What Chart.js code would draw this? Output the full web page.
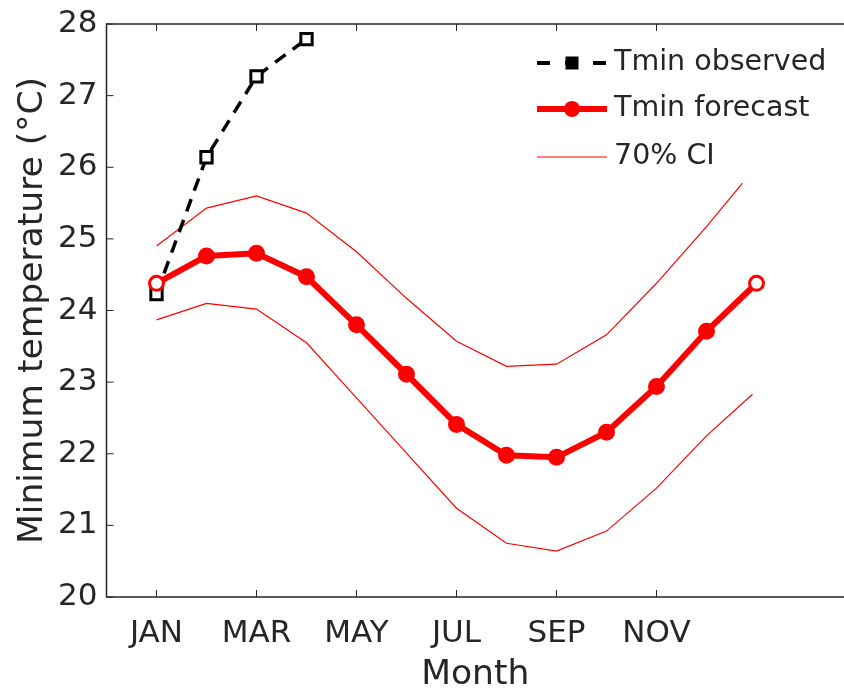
<!DOCTYPE html>
<html>
<head>
<meta charset="utf-8">
<script src="https://cdn.jsdelivr.net/npm/chart.js@4.4.1/dist/chart.umd.min.js"></script>
<style>
    html, body { margin: 0; padding: 0; background: #fff; overflow: hidden; }
    #wrap { width: 844px; height: 690px; }
</style>
</head>
<body>
<div id="wrap"><canvas id="chart" width="844" height="690"></canvas></div>
<script>
// Data
const months = [1, 2, 3, 4, 5, 6, 7, 8, 9, 10, 11, 12, 13];
const forecast = [24.38, 24.76, 24.80, 24.47, 23.80, 23.11, 22.41, 21.98, 21.95, 22.30, 22.94, 23.71, 24.38];

const observedMonths = [1, 2, 3, 4];
const observed = [24.23, 26.14, 27.27, 27.79];

const ciUpperMonths = [1, 2, 3, 4, 5, 6, 7, 8, 9, 10, 11, 12, 12.72];
const ciUpper = [24.90, 25.43, 25.60, 25.36, 24.82, 24.17, 23.57, 23.22, 23.25, 23.66, 24.38, 25.17, 25.78];
const ciLowerMonths = [1, 2, 3, 4, 5, 6, 7, 8, 9, 10, 11, 12, 12.92];
const ciLower = [23.87, 24.10, 24.02, 23.55, 22.78, 22.01, 21.24, 20.75, 20.64, 20.92, 21.52, 22.25, 22.83];

const tickMonths = [1, 3, 5, 7, 9, 11];
const tickLabels = ['JAN', 'MAR', 'MAY', 'JUL', 'SEP', 'NOV'];

const legendLabels = ['Tmin observed', 'Tmin forecast', '70% CI'];

const FONT = 'DejaVu Sans';
const INK = '#262626';
const RED = '#ff0000';

function toPoints(xs, ys) {
    return xs.map((x, i) => ({ x: x, y: ys[i] }));
}

// open markers at the ends of the forecast line
const forecastFill = forecast.map((v, i) => (i === 0 || i === forecast.length - 1) ? '#ffffff' : RED);

// axis box + inward ticks, matlab style
const boxPlugin = {
    id: 'box',
    afterDatasetsDraw(chart) {
        const { ctx, chartArea: a, scales } = chart;
        ctx.save();
        ctx.strokeStyle = INK;
        ctx.lineWidth = 1.5;
        ctx.beginPath();
        ctx.moveTo(a.right, a.top);
        ctx.lineTo(a.left, a.top);
        ctx.lineTo(a.left, a.bottom);
        ctx.lineTo(a.right, a.bottom);
        ctx.stroke();

        ctx.lineWidth = 1;
        ctx.beginPath();
        scales.x.ticks.forEach(t => {
            const px = scales.x.getPixelForValue(t.value);
            ctx.moveTo(px, a.bottom);
            ctx.lineTo(px, a.bottom - 7);
            ctx.moveTo(px, a.top);
            ctx.lineTo(px, a.top + 7);
        });
        scales.y.ticks.forEach(t => {
            const py = scales.y.getPixelForValue(t.value);
            ctx.moveTo(a.left, py);
            ctx.lineTo(a.left + 7, py);
        });
        ctx.stroke();
        ctx.restore();
    }
};

// legend drawn inside the axes, top right
const legendPlugin = {
    id: 'insideLegend',
    afterDatasetsDraw(chart) {
        const ctx = chart.ctx;
        const x0 = 537, x1 = 607, xm = (x0 + x1) / 2;
        const rows = [63, 109, 157];
        ctx.save();

        // observed
        ctx.strokeStyle = '#000';
        ctx.lineWidth = 4;
        ctx.setLineDash([13, 15]);
        ctx.beginPath();
        ctx.moveTo(x0, rows[0]);
        ctx.lineTo(x1, rows[0]);
        ctx.stroke();
        ctx.setLineDash([]);
        ctx.fillStyle = '#000';
        ctx.lineWidth = 3;
        ctx.strokeRect(xm - 5, rows[0] - 5, 10, 10);
        ctx.fillRect(xm - 5, rows[0] - 5, 10, 10);

        // forecast
        ctx.strokeStyle = RED;
        ctx.lineWidth = 6;
        ctx.beginPath();
        ctx.moveTo(x0, rows[1]);
        ctx.lineTo(x1, rows[1]);
        ctx.stroke();
        ctx.fillStyle = RED;
        ctx.beginPath();
        ctx.arc(xm, rows[1], 8, 0, Math.PI * 2);
        ctx.fill();

        // CI
        ctx.lineWidth = 1.2;
        ctx.beginPath();
        ctx.moveTo(x0, rows[2]);
        ctx.lineTo(x1, rows[2]);
        ctx.stroke();

        ctx.fillStyle = INK;
        ctx.font = '28.5px "' + FONT + '"';
        ctx.textBaseline = 'middle';
        ctx.textAlign = 'left';
        legendLabels.forEach((label, i) => ctx.fillText(label, 614, rows[i]));
        ctx.restore();
    }
};

const ctx = document.getElementById('chart').getContext('2d');
new Chart(ctx, {
    type: 'line',
    data: {
        datasets: [
            {
                label: 'Tmin forecast',
                data: toPoints(months, forecast),
                borderColor: RED,
                borderWidth: 6,
                pointRadius: 7,
                pointBorderWidth: 3,
                pointBorderColor: RED,
                pointBackgroundColor: forecastFill,
                tension: 0
            },
            {
                label: 'Tmin observed',
                data: toPoints(observedMonths, observed),
                borderColor: '#000',
                borderWidth: 3.5,
                borderDash: [13, 9],
                pointStyle: 'rect',
                pointRadius: 8,
                pointBorderWidth: 3,
                pointBorderColor: '#000',
                pointBackgroundColor: '#ffffff',
                tension: 0
            },
            {
                label: '70% CI',
                data: toPoints(ciUpperMonths, ciUpper),
                borderColor: RED,
                borderWidth: 1.2,
                pointRadius: 0,
                tension: 0
            },
            {
                label: '70% CI lower',
                data: toPoints(ciLowerMonths, ciLower),
                borderColor: RED,
                borderWidth: 1.2,
                pointRadius: 0,
                tension: 0
            }
        ]
    },
    options: {
        responsive: false,
        animation: false,
        layout: {
            autoPadding: false,
            padding: { top: 24, right: 0, left: 0, bottom: 0 }
        },
        plugins: {
            legend: { display: false },
            tooltip: { enabled: false }
        },
        scales: {
            x: {
                type: 'linear',
                min: 0,
                max: 14.75,
                afterBuildTicks: s => { s.ticks = tickMonths.map(v => ({ value: v })); },
                afterFit: s => {
                    s.height = 93;
                    s.paddingLeft = 0;
                    s.paddingRight = 0;
                },
                grid: { display: false, drawTicks: false },
                border: { display: false },
                ticks: {
                    autoSkip: false,
                    maxRotation: 0,
                    padding: 18,
                    color: INK,
                    font: { family: FONT, size: 31 },
                    callback: v => tickLabels[tickMonths.indexOf(v)]
                },
                title: {
                    display: true,
                    text: 'Month',
                    color: INK,
                    font: { family: FONT, size: 34.5 },
                    padding: { top: 0, bottom: -6 }
                }
            },
            y: {
                min: 20,
                max: 28,
                afterFit: s => {
                    s.width = 106.5;
                    s.paddingTop = 0;
                    s.paddingBottom = 0;
                },
                grid: { display: false, drawTicks: false },
                border: { display: false },
                ticks: {
                    stepSize: 1,
                    padding: 9,
                    color: INK,
                    font: { family: FONT, size: 31 }
                },
                title: {
                    display: true,
                    text: 'Minimum temperature (°C)',
                    color: INK,
                    font: { family: FONT, size: 34.5 },
                    padding: { top: 12, bottom: 0 }
                }
            }
        }
    },
    plugins: [boxPlugin, legendPlugin]
});
</script>
</body>
</html>
